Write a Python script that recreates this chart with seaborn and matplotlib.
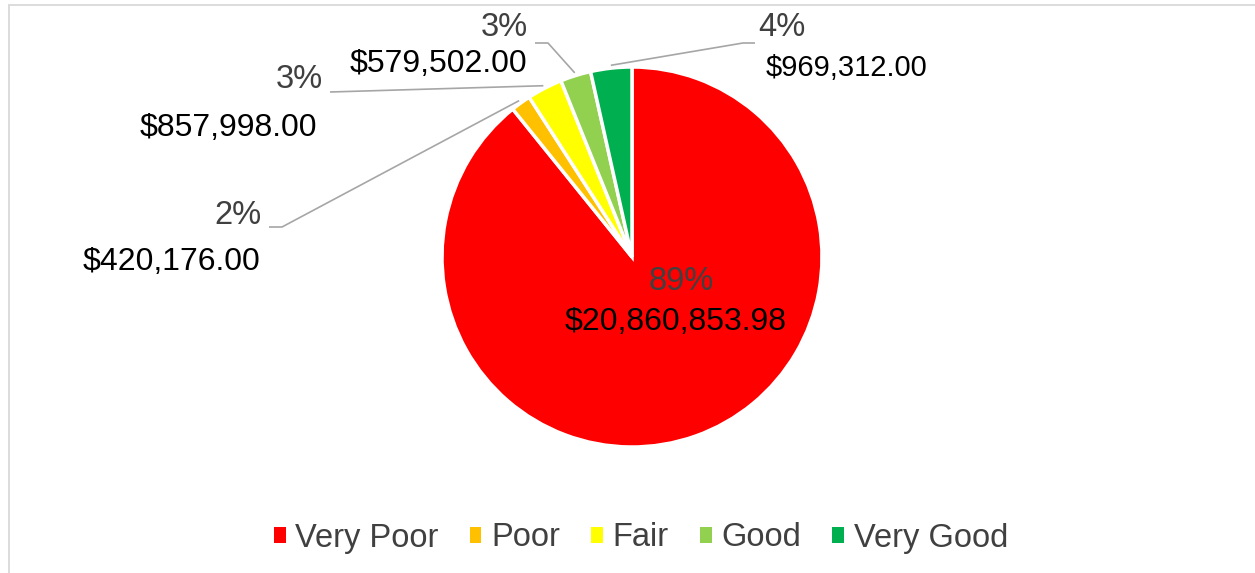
import matplotlib
matplotlib.use("Agg")
import matplotlib.pyplot as plt
from matplotlib.lines import Line2D
import numpy as np
import seaborn as sns

# Data
categories = ["Very Poor", "Poor", "Fair", "Good", "Very Good"]
amounts = [20860853.98, 420176.00, 857998.00, 579502.00, 969312.00]
# slice sizes (%) as they are drawn in the reference pie
shares = [89.2, 1.7, 3.0, 2.6, 3.5]
colors = ["#FF0000", "#FFC000", "#FFFF00", "#92D050", "#00B050"]

sns.set_theme(style="white")
plt.rcParams["font.family"] = ["Liberation Sans", "DejaVu Sans"]

W, H = 1255, 573
fig = plt.figure(figsize=(W / 100, H / 100), dpi=100)
ax = fig.add_axes([0, 0, 1, 1])


def fy(y):
    # pixel row (from top) -> data y
    return H - y


# pie layout in pixels
cx, cy, r = 632, 257, 190

wedges, _ = ax.pie(shares, colors=sns.color_palette(colors), startangle=90,
                   counterclock=False, center=(cx, fy(cy)), radius=r,
                   wedgeprops=dict(edgecolor="white", linewidth=2.5))
ax.set_xlim(0, W)
ax.set_ylim(0, H)
ax.set_aspect("equal")
ax.axis("off")

# label layout (pixels from top-left)
pct_pos = [(681, 281), (262, 216), (323, 80), (528, 28), (758, 28)]
val_pos = [(676, 322), (260, 262), (317, 128), (527, 64), (766, 68)]
align = ["center", "right", "right", "right", "left"]
val_size = [23, 23, 23, 23, 21]
elbows = [None,
          [(269, 227), (282, 227)],
          [(330, 92)],
          [(535, 43), (548, 43)],
          [(755, 43), (743, 43)]]

for w, s, a, pp, vp, ha, vs, el in zip(wedges, shares, amounts, pct_pos,
                                       val_pos, align, val_size, elbows):
    ax.text(pp[0], fy(pp[1]), f"{s:.0f}%", ha=ha, va="center",
            fontsize=23.5, color="#404040")
    ax.text(vp[0], fy(vp[1]), f"${a:,.2f}", ha=ha, va="center",
            fontsize=vs, color="black")
    if el is None:
        continue
    theta = np.deg2rad((w.theta1 + w.theta2) / 2)
    ex = w.center[0] + 1.015 * w.r * np.cos(theta)
    ey = w.center[1] + 1.015 * w.r * np.sin(theta)
    xs = [p[0] for p in el] + [ex]
    ys = [fy(p[1]) for p in el] + [ey]
    ax.plot(xs, ys, color="#A6A6A6", lw=1.2, solid_capstyle="butt")

# chart area border (only left and top visible in the crop)
fig.add_artist(Line2D([8.5 / W, 8.5 / W], [0, 1 - 4.5 / H],
                      transform=fig.transFigure, color="#D9D9D9", lw=1.3))
fig.add_artist(Line2D([8.5 / W, 1], [1 - 4.5 / H, 1 - 4.5 / H],
                      transform=fig.transFigure, color="#D9D9D9", lw=1.3))

leg = ax.legend(wedges, categories, loc="center",
                bbox_to_anchor=(641 / W, 1 - 538 / H),
                bbox_transform=fig.transFigure, ncol=5, frameon=False,
                fontsize=23.5, handlelength=0.36, handleheight=0.36,
                handletextpad=0.3, columnspacing=0.95, labelcolor="#404040")
for h in leg.legend_handles:
    h.set_linewidth(0)

fig.savefig("out.png", dpi=100)
